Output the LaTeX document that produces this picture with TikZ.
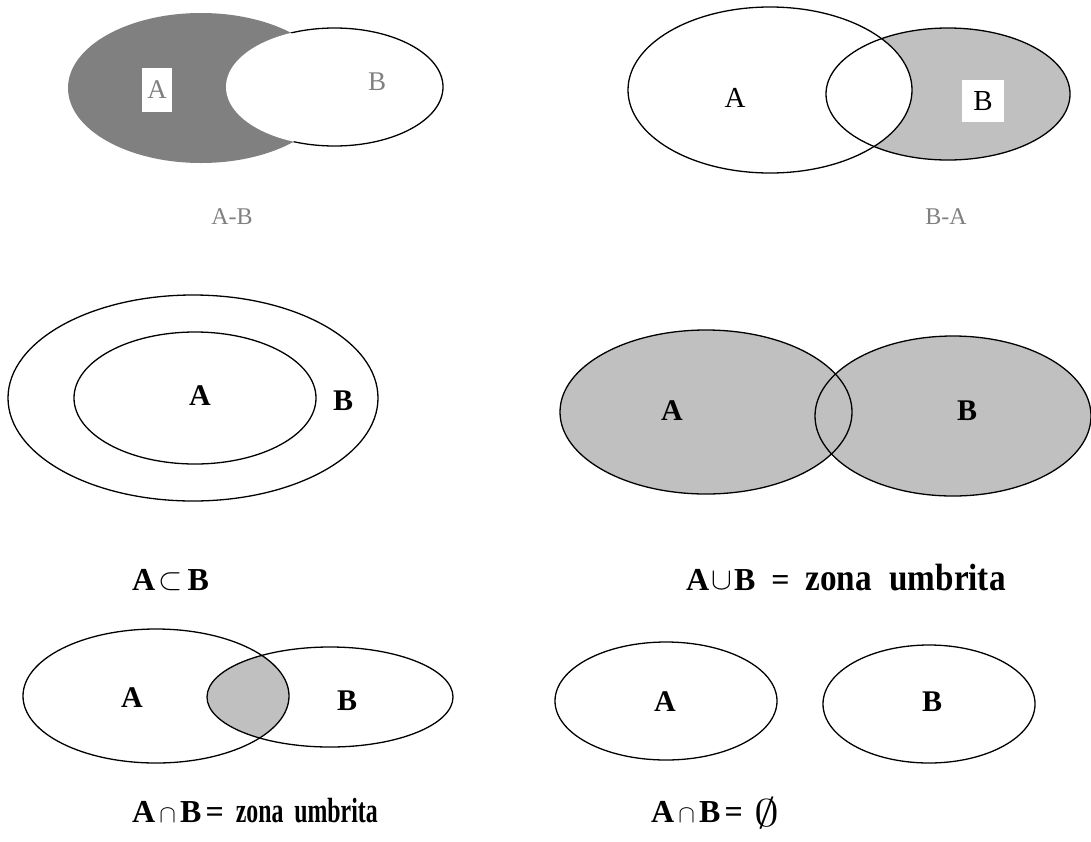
\documentclass[tikz,border=0pt]{standalone}
\usepackage{fontspec}
\setmainfont{Liberation Serif}
\definecolor{darkfill}{HTML}{808080}
\definecolor{lightfill}{HTML}{C0C0C0}
\definecolor{midgray}{HTML}{808080}
\tikzset{
  outline/.style={draw=black, line width=1.3pt},
  setlbl/.style={font=\fontsize{30}{32}\selectfont\bfseries},
  plainlbl/.style={font=\fontsize{29}{32}\selectfont},
  greylbl/.style={font=\fontsize{27}{30}\selectfont, text=midgray},
  caption/.style={font=\fontsize{32}{34}\selectfont\bfseries, anchor=base west, inner sep=0pt},
  greycap/.style={font=\fontsize{24}{26}\selectfont, text=midgray},
}
% condensed bold words: #1 = final width, #2 = font size, #3 = gap between words
\newcommand{\narrowwords}[3]{\resizebox{#1}{\height}{\fontsize{#2}{#2}\selectfont\bfseries zona\hspace{#3}umbrita}}
\newcommand{\bigop}[1]{\raisebox{1pt}{\scalebox{1.25}{$#1$}}}
\begin{document}
\begin{tikzpicture}[x=1pt,y=-1pt]
\useasboundingbox (0,0) rectangle (1091,841);
\fill[white] (0,0) rectangle (1091,841);

% ---- A - B ----
\fill[darkfill] (201,88) ellipse [x radius=133pt, y radius=75pt];
\fill[white] (334.5,87) ellipse [x radius=108.5pt, y radius=59pt];
\begin{scope}[even odd rule]
  \clip (0,0) rectangle (1091,841) (201,88) ellipse [x radius=133pt, y radius=75pt];
  \draw[outline] (334.5,87) ellipse [x radius=108.5pt, y radius=59pt];
\end{scope}
\fill[white] (142,68) rectangle (172,112);
\node[greylbl] (amb-a) at (157,90) {A};
\node[greylbl] (amb-b) at (377,82) {B};
\node[greycap] (amb-cap) at (232,217) {A-B};

% ---- B - A ----
\fill[lightfill] (948,94) ellipse [x radius=122pt, y radius=66pt];
\begin{scope}
  \clip (770,90) ellipse [x radius=142pt, y radius=83pt];
  \fill[white] (948,94) ellipse [x radius=122pt, y radius=66pt];
\end{scope}
\draw[outline] (770,90) ellipse [x radius=142pt, y radius=83pt];
\draw[outline] (948,94) ellipse [x radius=122pt, y radius=66pt];
\fill[white] (962,80) rectangle (1004,122);
\node[plainlbl] (bma-a) at (735,98) {A};
\node[plainlbl] (bma-b) at (983,101) {B};
\node[greycap] (bma-cap) at (946,217) {B-A};

% ---- A subset of B ----
\draw[outline] (193,398) ellipse [x radius=185pt, y radius=103pt];
\draw[outline] (195,398) ellipse [x radius=121pt, y radius=66pt];
\node[setlbl] (sub-a) at (200,396) {A};
\node[setlbl] (sub-b) at (343,401) {B};
\node[caption] (sub-cap) at (132,590) {A\hspace{3pt}\bigop{\subset}\hspace{5pt}B};

% ---- union ----
\fill[lightfill] (706,412) ellipse [x radius=146pt, y radius=82pt];
\fill[lightfill] (953,416) ellipse [x radius=138pt, y radius=80pt];
\draw[outline] (706,412) ellipse [x radius=146pt, y radius=82pt];
\draw[outline] (953,416) ellipse [x radius=138pt, y radius=80pt];
\node[setlbl] (uni-a) at (672,411) {A};
\node[setlbl] (uni-b) at (967,411) {B};
\node[caption] (uni-cap) at (686,590)
  {A\hspace{2pt}\bigop{\cup}\hspace{2pt}B\hspace{16pt}=\hspace{16pt}\narrowwords{200pt}{38pt}{20pt}};

% ---- intersection ----
\begin{scope}
  \clip (156,696) ellipse [x radius=133pt, y radius=67pt];
  \fill[lightfill] (330,697) ellipse [x radius=123pt, y radius=50pt];
\end{scope}
\draw[outline] (156,696) ellipse [x radius=133pt, y radius=67pt];
\draw[outline] (330,697) ellipse [x radius=123pt, y radius=50pt];
\node[setlbl] (int-a) at (132,698) {A};
\node[setlbl] (int-b) at (347,701) {B};
\node[caption] (int-cap) at (132,822)
  {A$\,\cap\,$B\hspace{4pt}=\hspace{12pt}\narrowwords{142pt}{35pt}{16pt}};

% ---- disjoint sets ----
\draw[outline] (666,701) ellipse [x radius=111pt, y radius=59pt];
\draw[outline] (929,704) ellipse [x radius=106pt, y radius=59pt];
\node[setlbl] (dis-a) at (665,702) {A};
\node[setlbl] (dis-b) at (932,702) {B};
\node[caption] (dis-cap) at (651,822)
  {A$\,\cap\,$B\hspace{4pt}=\hspace{12pt}\raisebox{-4pt}{\scalebox{2.0}[1.55]{$\emptyset$}}};
\end{tikzpicture}
\end{document}
